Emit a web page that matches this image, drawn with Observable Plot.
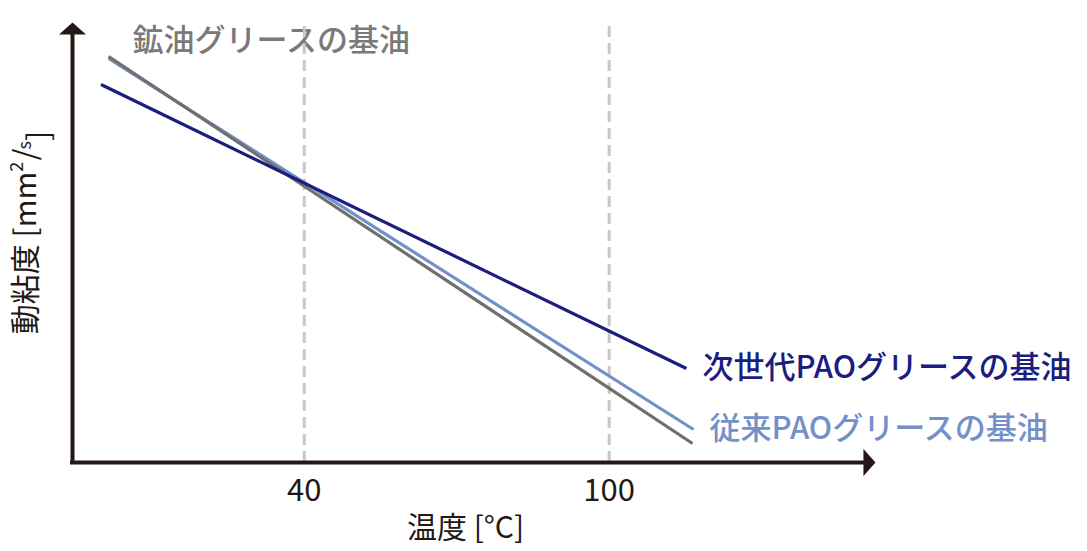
<!DOCTYPE html>
<html>
<head>
<meta charset="utf-8">
<script src="https://cdn.jsdelivr.net/npm/d3@7"></script>
<script src="https://cdn.jsdelivr.net/npm/@observablehq/plot@0.6"></script>
<style>
  html, body { margin: 0; padding: 0; background: #fff; }
  #chart { width: 1087px; height: 551px; }
</style>
</head>
<body>
<div id="chart"></div>
<script>
// ---- data ----
const series = ["従来PAOグリースの基油", "鉱油グリースの基油", "次世代PAOグリースの基油"];
const tempStart = [1.5, 1.5, 0];
const tempEnd = [116.6, 116.4, 115.2];
const viscStart = [404, 406, 378];
const viscEnd = [33, 19, 94];
const xTicks = [40, 100];
const xTickLabels = ["40", "100"];
const xTitle = "温度 [°C]";
const yTitleMain = "動粘度 [mm";
const yTitleSup = "2";
const yTitleSlash = "/";
const yTitleSub = "s";
const yTitleEnd = "]";
const xAxisRange = [-5.6, 152.6];
const yAxisRange = [0, 440];

// ---- styles ----
const colors = ["#7391c9", "#6f6f6f", "#1b1d80"];
const labelColors = ["#7391c9", "#7a7a7a", "#1b1d80"];
const ink = "#231815";
const font = "'Noto Sans CJK JP', 'Noto Sans', sans-serif";

const rows = [];
series.forEach((s, i) => {
  rows.push({series: s, temp: tempStart[i], visc: viscStart[i]});
  rows.push({series: s, temp: tempEnd[i], visc: viscEnd[i]});
});
const ends = series.map((s, i) => ({series: s, temp: tempEnd[i], visc: viscEnd[i], color: labelColors[i]}));
const starts = series.map((s, i) => ({series: s, temp: tempStart[i], visc: viscStart[i], color: labelColors[i]}));

const arrowHead = {
  draw(context) {
    context.moveTo(0, -1);
    context.lineTo(13.5, 11);
    context.lineTo(-13.5, 11);
    context.closePath();
  }
};

const yTitleFull = yTitleMain + yTitleSup + yTitleSlash + yTitleSub + yTitleEnd;

const plot = Plot.plot({
  width: 1087,
  height: 551,
  marginLeft: 72,
  marginRight: 211,
  marginTop: 22,
  marginBottom: 89,
  style: {fontFamily: font, background: "#fff"},
  x: {domain: xAxisRange, axis: null},
  y: {domain: yAxisRange, axis: null},
  color: {domain: series, range: colors},
  marks: [
    // series labels (under the guides, as in the original)
    Plot.text(ends.filter(d => d.series !== series[1]), {
      x: "temp", y: "visc", text: "series", fill: "color",
      textAnchor: "start", dx: 16, dy: 0, fontSize: 31, fontWeight: 500, fontFamily: font
    }),
    Plot.text(starts.filter(d => d.series === series[1]), {
      x: "temp", y: "visc", text: "series", fill: "color",
      textAnchor: "start", dx: 24, dy: -15, fontSize: 31, fontWeight: 500, fontFamily: font
    }),
    // dashed guides
    Plot.ruleX(xTicks, {y1: yAxisRange[0], y2: 441, stroke: "#c8c8c8", strokeWidth: 3, strokeDasharray: "11,6"}),
    // axes
    Plot.ruleY([0], {x1: xAxisRange[0], x2: 150.5, stroke: ink, strokeWidth: 4, strokeLinecap: "square"}),
    Plot.ruleX([xAxisRange[0]], {y1: 0, y2: 428, stroke: ink, strokeWidth: 4, strokeLinecap: "square"}),
    Plot.dot([0], {x: xAxisRange[0], y: yAxisRange[1] - 1, symbol: arrowHead, fill: ink, stroke: "none"}),
    Plot.dot([0], {x: xAxisRange[1] - 0.4, y: 0, symbol: arrowHead, fill: ink, stroke: "none", rotate: 90}),
    // series lines
    Plot.line(rows, {x: "temp", y: "visc", z: "series", stroke: "series", strokeWidth: 3.2, strokeLinecap: "butt"}),
    // tick labels
    Plot.text(xTicks, {x: d => d, y: -29, text: (d, i) => xTickLabels[i], fill: ink, fontSize: 31, fontFamily: font}),
    // axis titles
    Plot.text([xTitle], {x: 60.2, y: -66, text: d => d, textAnchor: "start", fill: ink, fontSize: 30, fontFamily: font}),
    Plot.text([yTitleFull], {x: -14.6, y: 230, text: d => d, fill: ink, fontSize: 30, rotate: -90, fontFamily: font, className: "ytitle"})
  ]
});

// render the unit with a superscript 2 and a small s
d3.select(plot).selectAll("g.ytitle text").each(function() {
  const t = d3.select(this);
  t.text(null);
  t.append("tspan").text(yTitleMain);
  t.append("tspan").attr("font-size", "0.6em").attr("dy", "-0.75em").text(yTitleSup);
  t.append("tspan").attr("dy", "0.45em").attr("dx", "0.05em").text(yTitleSlash);
  t.append("tspan").attr("font-size", "0.6em").attr("dy", "-0.3em").attr("dx", "-0.05em").text(yTitleSub);
  t.append("tspan").attr("dy", "0.6em").text(yTitleEnd);
});

document.getElementById("chart").appendChild(plot);
</script>
</body>
</html>
